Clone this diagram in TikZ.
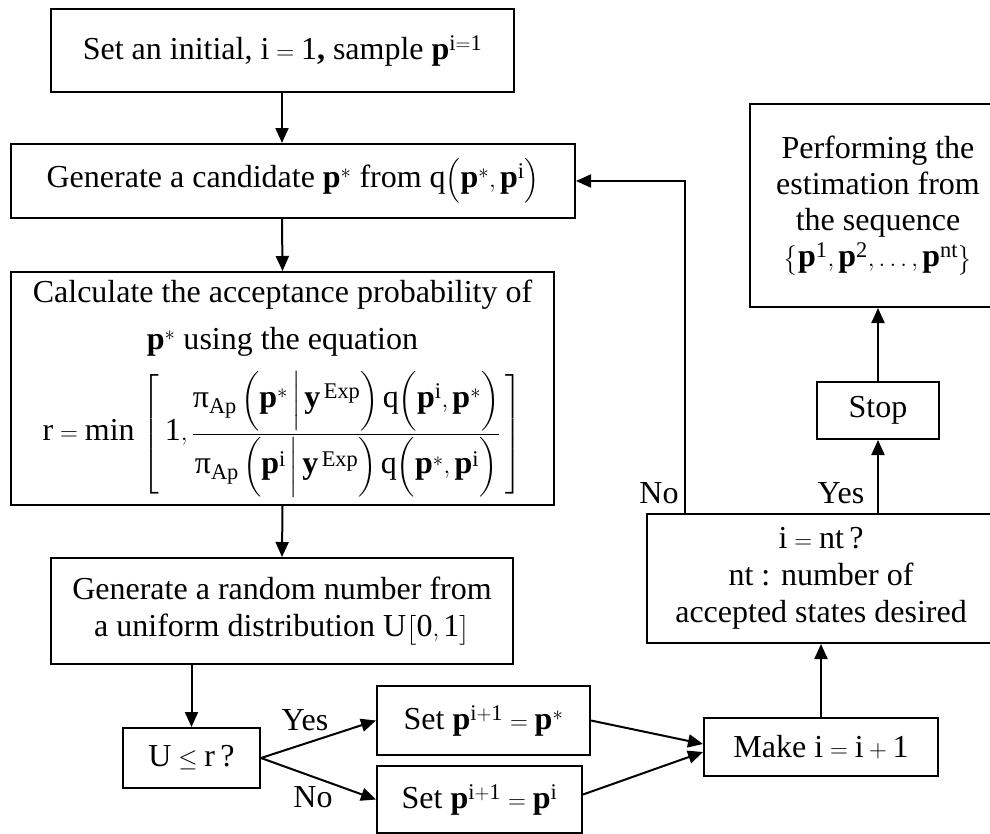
\documentclass[tikz,border=0pt]{standalone}
\usepackage{amsmath}
\usepackage{fontspec}
\setmainfont{Liberation Serif}
\setmathrm{Liberation Serif}
\setboldmathrm{Liberation Serif}
\usetikzlibrary{arrows.meta,calc}
\newcommand{\mypi}{\text{π}}
\newcommand{\brkstrut}{\vphantom{\rule[-49bp]{0pt}{114bp}}}
\begin{document}
\begin{tikzpicture}[x=1bp,y=-1bp,
  box/.style={draw, line width=2bp, inner sep=0pt, align=center, font=\fontsize{32bp}{37bp}\selectfont},
  arr/.style={line width=2bp, -{Triangle[length=15bp,width=13bp]}},
  lbl/.style={font=\fontsize{32bp}{37bp}\selectfont, inner sep=0pt}]
\useasboundingbox (0,0) rectangle (990,834);

\node[box, minimum width=463bp, minimum height=83bp] (b1) at (282.5,50.5)
  {Set an initial, $\mathrm{i}=\mathrm{1}$\textbf{,} sample $\mathbf{p}^{\mathrm{i=1}}$};
\node[box, minimum width=564bp, minimum height=74bp] (b2) at (293,181)
  {Generate a candidate $\mathbf{p}^{*}$ from $\mathrm{q}\Bigl(\mathbf{p}^{*},\mathbf{p}^{\mathrm{i}}\Bigr)$};
\node[box, minimum width=543bp, minimum height=233bp] (b3) at (282.5,388.5)
  {Calculate the acceptance probability of\\[10bp]
   $\mathbf{p}^{*}$ using the equation\\[14bp]
   $\delimiterfactor=1000 \delimitershortfall=0pt \displaystyle \mathrm{r}=\min\,\left[\brkstrut\right.\mathrm{1},\frac{\mypi_{\mathrm{Ap}}\,\biggl(\mathbf{p}^{*}\,\bigg|\,\mathbf{y}^{\,\mathrm{Exp}}\biggr)\,\mathrm{q}\biggl(\mathbf{p}^{\mathrm{i}},\mathbf{p}^{*}\biggr)}{\mypi_{\mathrm{Ap}}\,\biggl(\mathbf{p}^{\mathrm{i}}\,\bigg|\,\mathbf{y}^{\,\mathrm{Exp}}\biggr)\,\mathrm{q}\biggl(\mathbf{p}^{*},\mathbf{p}^{\mathrm{i}}\biggr)}\left.\brkstrut\right]$};
\node[box, minimum width=462bp, minimum height=106bp] (b4) at (282,611)
  {Generate a random number from\\ a uniform distribution $\mathrm{U}\bigl[\mathrm{0},\mathrm{1}\bigr]$};
\node[box, minimum width=137bp, minimum height=60bp] (u) at (191.5,758)
  {$\mathrm{U}\leq\mathrm{r}$\,?};
\node[box, minimum width=213bp, minimum height=69bp] (s1) at (483.5,720.5)
  {Set $\mathbf{p}^{\mathrm{i+1}}=\mathbf{p}^{*}$};
\node[box, minimum width=205bp, minimum height=67bp] (s2) at (479.5,799.5)
  {Set $\mathbf{p}^{\mathrm{i+1}}=\mathbf{p}^{\mathrm{i}}$};
\node[box, minimum width=234bp, minimum height=58bp] (mk) at (821,747)
  {Make $\mathrm{i}=\mathrm{i}+\mathrm{1}$};
\node[box, minimum width=348bp, minimum height=129bp] (nt) at (821,578.5)
  {$\mathrm{i}=\mathrm{nt}$\,?\\ $\mathrm{nt}$ : number of\\ accepted states desired};
\node[box, minimum width=122bp, minimum height=57bp] (stop) at (878,410.5) {Stop};
\node[box, minimum width=256bp, minimum height=203bp, font=\fontsize{32bp}{36bp}\selectfont] (pf) at (878,205.5)
  {Performing the\\ estimation from\\ the sequence\\ $\bigl\{\mathbf{p}^{\mathrm{1}},\mathbf{p}^{\mathrm{2}},\ldots,\mathbf{p}^{\mathrm{nt}}\bigr\}$};

\draw[arr] (b1.south -| 282,0) -- (b2.north -| 282,0);
\draw[arr] (b2.south -| 282,0) -- (b3.north);
\draw[arr] (b3.south) -- (b4.north);
\draw[arr] (u.north |- b4.south) -- (u.north);
\draw[arr] (u.east) -- (s1.west);
\draw[arr] (u.east) -- (s2.west);
\draw[arr] (s1.east) -- ($(mk.west)+(0,-3)$);
\draw[arr] ($(s2.east)+(0,-5)$) -- ($(mk.west)+(0,5)$);
\draw[arr] (mk.north) -- (nt.south);
\draw[arr] (stop.south |- nt.north) -- (stop.south);
\draw[arr] (stop.north) -- (pf.south);
\draw[arr] ([xshift=39bp]nt.north west) |- (b2.east);

\node[lbl] (ly1) at (305,720) {Yes};
\node[lbl] (ln1) at (313,797) {No};
\node[lbl] (ln2) at (659,493) {No};
\node[lbl] (ly2) at (841,493) {Yes};
\end{tikzpicture}
\end{document}
